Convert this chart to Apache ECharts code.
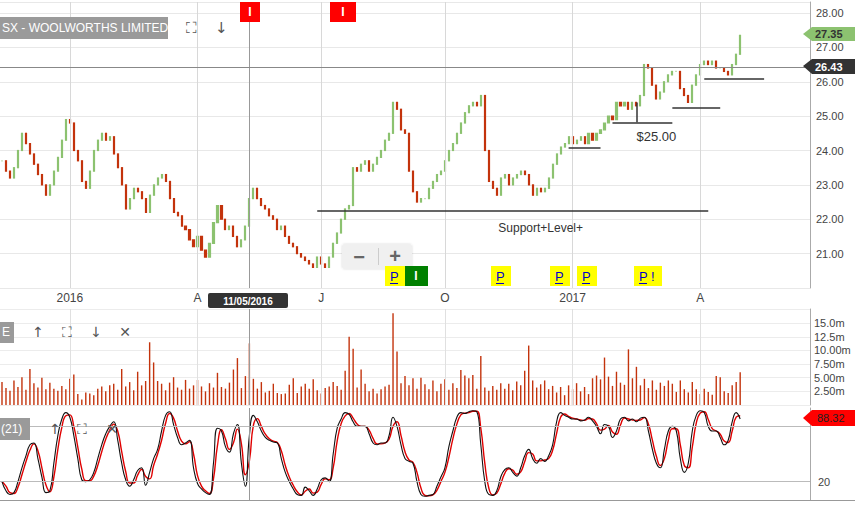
<!DOCTYPE html>
<html>
<head>
<meta charset="utf-8">
<script src="https://cdn.jsdelivr.net/npm/echarts@6/dist/echarts.min.js"></script>
<style>html,body{margin:0;padding:0;background:#fff}#main{width:855px;height:505px}</style>
</head>
<body>
<div id="main"></div>
<script>
// closing prices, one bar per ~2 trading days, Nov 2015 - Apr 2017
const closes = [23.7,23.4,23.2,23.5,24.0,24.5,24.2,23.9,23.6,23.3,
  23.0,22.7,23.0,23.4,23.8,24.3,24.9,24.8,24.0,23.7,
  23.1,22.9,23.4,24.0,24.3,24.5,24.3,24.4,23.9,23.5,
  23.0,22.3,22.6,22.9,22.8,22.6,22.2,22.7,23.0,23.2,
  23.3,23.1,22.6,22.2,22.1,21.8,21.7,21.4,21.2,21.5,
  21.1,20.9,21.3,21.9,22.4,22.0,21.7,21.8,21.5,21.2,
  21.4,21.8,22.6,22.9,22.6,22.4,22.3,22.1,22.0,21.7,
  21.8,21.5,21.3,21.2,21.0,20.9,20.8,20.7,20.6,20.9,
  20.7,20.6,20.9,21.3,21.6,22.0,22.3,22.4,23.5,23.4,
  23.6,23.7,23.4,23.6,23.8,24.0,24.3,24.5,25.4,25.2,
  24.6,24.5,23.4,22.8,22.5,22.6,22.6,22.9,23.1,23.3,
  23.4,23.7,24.0,24.2,24.5,24.8,25.1,25.3,25.4,25.3,
  25.6,24.0,23.1,22.9,22.7,23.2,23.3,23.0,23.2,23.3,
  23.4,23.3,23.0,22.7,22.9,22.8,22.9,23.2,23.6,23.9,
  24.1,24.2,24.4,24.2,24.3,24.4,24.2,24.5,24.3,24.5,
  24.6,24.8,25.0,24.9,25.4,25.3,25.4,25.2,25.4,25.3,
  25.6,26.5,26.4,25.9,25.5,25.7,26.0,26.2,26.3,26.3,
  25.8,25.6,25.4,25.9,26.2,26.5,26.6,26.5,26.6,26.4,
  26.4,26.3,26.2,26.5,26.8,27.35];
const volumes = [4.2,3.1,2.6,4.5,3.3,5.1,2.8,6.6,4.0,3.2,
  5.0,2.9,4.1,3.0,2.6,3.5,2.9,4.8,5.6,2.0,
  1.0,2.3,2.1,1.8,3.0,3.4,2.5,3.6,3.9,2.8,
  6.6,3.4,4.2,2.7,6.1,3.6,4.4,11.5,7.8,4.4,
  3.9,2.7,4.1,5.1,3.2,2.8,4.6,3.0,3.6,4.6,
  3.4,2.5,4.0,3.2,5.9,3.3,3.0,4.1,6.5,8.6,
  3.1,5.3,11.3,4.8,3.0,4.2,2.3,2.6,3.9,2.2,
  2.0,2.1,3.7,4.9,2.2,3.4,3.9,3.0,4.7,2.7,
  2.1,3.1,3.4,4.2,3.5,2.8,6.3,12.5,10.3,3.2,
  6.5,3.9,2.5,3.0,2.1,2.9,3.4,3.7,16.8,9.8,
  4.0,5.3,3.6,4.9,3.0,5.0,3.8,2.9,4.5,2.5,
  3.9,4.7,2.8,4.0,3.1,6.4,5.4,4.9,5.5,3.0,
  9.0,3.2,2.6,3.5,2.8,4.0,3.0,3.9,2.7,4.3,
  3.6,6.3,10.9,4.5,3.2,3.8,4.5,2.9,3.5,2.3,
  3.3,1.8,3.6,2.9,4.0,2.5,3.3,2.0,4.9,5.4,
  4.7,8.7,5.2,3.5,6.1,4.1,3.7,10.2,4.9,7.0,
  3.6,4.8,3.1,4.5,2.8,4.1,3.5,4.5,3.9,2.4,
  4.5,2.9,2.3,4.2,2.9,2.0,3.0,2.4,1.9,5.3,
  5.1,2.5,2.2,3.6,4.2,6.0];
const stochK = [20,10,6,8,20,35,48,60,62,45,
  25,8,10,40,70,88,95,90,70,45,
  22,20,22,30,45,60,72,80,85,65,
  40,22,15,22,32,35,16,30,45,55,
  75,92,96,82,68,60,62,65,35,18,
  12,8,6,40,78,75,58,52,72,82,
  40,15,70,92,85,75,68,65,63,62,
  45,30,20,12,6,5,14,10,5,12,
  22,24,20,50,78,88,95,93,85,80,
  80,80,72,62,60,62,62,70,90,80,
  60,45,42,40,20,6,4,5,6,15,
  25,35,58,75,90,95,94,96,97,96,
  60,20,6,5,10,25,33,35,30,26,
  35,48,55,45,40,45,42,48,60,85,
  95,92,90,88,88,86,87,90,86,80,
  72,82,80,68,75,88,90,86,88,85,
  89,90,75,55,40,35,55,75,80,75,
  45,30,40,75,92,97,95,80,75,75,
  68,60,65,85,95,88];
// x-axis markers (bar index) and labels
const quarterPos = [17, 49, 80, 111, 143, 175];
const quarterLabels = ['2016', 'A', 'J', 'O', '2017', 'A'];
const cursorPos = 62;
const cursorPrice = 26.43;
const slotCount = 203;

const UP = '#8cc270', DOWN = '#c3330c';
const cats = Array.from({length: slotCount}, (_, i) => i);
const candles = closes.map((c, i) => {
  const o = i ? closes[i - 1] : c;
  return [o, c, Math.min(o, c), Math.max(o, c)];
});
const stochD = stochK.map((v, i) => i ? (v + stochK[i - 1]) / 2 : v);

function qLines(withLabel) {
  return quarterPos.map((p, i) => ({
    xAxis: p,
    label: withLabel ? {show: true, formatter: quarterLabels[i], position: 'start', distance: 4, color: '#444', fontSize: 12} : {show: false}
  }));
}
const seg = (x1, y1, x2, y2) => [{coord: [x1, y1]}, {coord: [x2, y2]}];

const chart = echarts.init(document.getElementById('main'), null, {renderer: 'svg'});
const vLbl = {2.5: '2.50m', 5: '5.00m', 7.5: '7.50m', 10: '10.00m', 12.5: '12.5m', 15: '15.0m'};
const catAxis = idx => ({type: 'category', gridIndex: idx, data: cats, show: false});

const overlays = [
    {type: 'rect', shape: {x: 0, y: 17, width: 168, height: 22}, style: {fill: '#9a9a9a'}},
    {type: 'text', x: 2, y: 28, style: {text: 'SX - WOOLWORTHS LIMITED', fill: '#fff', font: '12px Arial', verticalAlign: 'middle'}},
    {type: 'text', x: 186, y: 28, style: {text: '⛶', fill: '#555', font: '15px DejaVu Sans', verticalAlign: 'middle'}},
    {type: 'text', x: 215, y: 28, style: {text: '↓', fill: '#555', font: '15px DejaVu Sans', verticalAlign: 'middle'}},
    {type: 'rect', shape: {x: 240, y: 2, width: 20, height: 20}, style: {fill: '#f00'}},
    {type: 'text', x: 250, y: 12, style: {text: 'I', fill: '#fff', font: 'bold 12px Arial', align: 'center', verticalAlign: 'middle'}},
    {type: 'rect', shape: {x: 330, y: 2, width: 26, height: 20}, style: {fill: '#f00'}},
    {type: 'text', x: 343, y: 12, style: {text: 'I', fill: '#fff', font: 'bold 12px Arial', align: 'center', verticalAlign: 'middle'}},
    {type: 'rect', shape: {x: 342, y: 244, width: 70, height: 25, r: 3}, style: {fill: '#f0f0f0', shadowBlur: 2, shadowColor: 'rgba(0,0,0,0.15)'}},
    {type: 'text', x: 359, y: 257, style: {text: '−', fill: '#666', font: 'bold 20px Arial', align: 'center', verticalAlign: 'middle'}},
    {type: 'rect', shape: {x: 378, y: 248, width: 1, height: 17}, style: {fill: '#ccc'}},
    {type: 'text', x: 395, y: 256, style: {text: '+', fill: '#666', font: 'bold 20px Arial', align: 'center', verticalAlign: 'middle'}},
    ...[[385, 20, 'P'], [491, 20, 'P'], [550, 20, 'P'], [577, 20, 'P'], [634, 28, 'P !']].flatMap(([x, w, t]) => [
      {type: 'rect', shape: {x: x, y: 266, width: w, height: 20}, style: {fill: '#ffff00'}},
      {type: 'text', x: x + 5, y: 276, style: {text: t, fill: '#00c', font: '13px Arial', verticalAlign: 'middle'}},
      {type: 'rect', shape: {x: x + 5, y: 283, width: 8, height: 1}, style: {fill: '#00c'}}
    ]),
    {type: 'rect', shape: {x: 405, y: 266, width: 23, height: 20}, style: {fill: '#008000'}},
    {type: 'text', x: 416, y: 276, style: {text: 'I', fill: '#fff', font: 'bold 12px Arial', align: 'center', verticalAlign: 'middle'}},
    {type: 'rect', shape: {x: 208, y: 293, width: 80, height: 15, r: 2}, style: {fill: '#333'}},
    {type: 'text', x: 248, y: 301, style: {text: '11/05/2016', fill: '#fff', font: 'bold 10px Arial', align: 'center', verticalAlign: 'middle'}},
    {type: 'polygon', shape: {points: [[803, 34], [812, 27], [855, 27], [855, 41], [812, 41]]}, style: {fill: '#8cc270'}},
    {type: 'text', x: 815, y: 34, style: {text: '27.35', fill: '#333', font: 'bold 11px Arial', verticalAlign: 'middle'}},
    {type: 'polygon', shape: {points: [[803, 66], [812, 59], [855, 59], [855, 74], [812, 74]]}, style: {fill: '#333'}},
    {type: 'text', x: 815, y: 67, style: {text: '26.43', fill: '#fff', font: 'bold 11px Arial', verticalAlign: 'middle'}},
    {type: 'polygon', shape: {points: [[803, 418], [812, 410], [855, 410], [855, 426], [812, 426]]}, style: {fill: '#f00'}},
    {type: 'text', x: 817, y: 418, style: {text: '88.32', fill: '#222', font: '11px Arial', verticalAlign: 'middle'}},
    {type: 'rect', shape: {x: 0, y: 322, width: 14, height: 21}, style: {fill: '#9a9a9a'}},
    {type: 'text', x: 2, y: 332, style: {text: 'E', fill: '#fff', font: '12px Arial', verticalAlign: 'middle'}},
    ...[[38, '↑'], [67, '⛶'], [96, '↓'], [125, '✕']].map(([x, t]) =>
      ({type: 'text', x: x, y: 332, style: {text: t, fill: '#555', font: '14px DejaVu Sans', align: 'center', verticalAlign: 'middle'}})),
    {type: 'rect', shape: {x: 0, y: 418, width: 30, height: 22}, style: {fill: '#9a9a9a'}},
    {type: 'text', x: 1, y: 429, style: {text: '(21)', fill: '#fff', font: '12px Arial', verticalAlign: 'middle'}},
    ...[[55, '↑'], [82, '⛶'], [112, '✕']].map(([x, t]) =>
      ({type: 'text', x: x, y: 429, style: {text: t, fill: '#555', font: '14px DejaVu Sans', align: 'center', verticalAlign: 'middle'}})),
    {type: 'rect', shape: {x: 0, y: 500, width: 855, height: 1}, style: {fill: '#999'}}
];

chart.setOption({
  animation: false,
  grid: [
    {left: 0, right: 45, top: 2, height: 286},
    {left: 0, right: 45, top: 309, height: 96},
    {left: 0, right: 45, top: 408, height: 92}
  ],
  xAxis: [catAxis(0), catAxis(1), catAxis(2)],
  yAxis: [
    {type: 'value', gridIndex: 0, position: 'right', min: 20, max: 28.32, interval: 1,
      axisLine: {show: true, lineStyle: {color: '#aaa'}}, axisTick: {show: false},
      axisLabel: {color: '#444', fontSize: 11, margin: 6, formatter: v => (v > 20 && v < 28.3) ? v.toFixed(2) : ''},
      splitLine: {lineStyle: {color: '#e8e8e8'}}},
    {type: 'value', gridIndex: 1, position: 'right', min: 0, max: 17.6, interval: 2.5,
      axisLine: {show: true, lineStyle: {color: '#aaa'}}, axisTick: {show: false},
      axisLabel: {color: '#444', fontSize: 11, margin: 4, formatter: v => vLbl[v] || ''},
      splitLine: {lineStyle: {color: '#ececec'}}},
    {type: 'value', gridIndex: 2, position: 'right', min: 0, max: 100, interval: 20,
      axisLine: {show: true, lineStyle: {color: '#aaa'}}, axisTick: {show: false},
      axisLabel: {color: '#444', fontSize: 11, margin: 8, formatter: v => v === 20 ? '20' : ''},
      splitLine: {show: false}}
  ],
  series: [
    {type: 'candlestick', xAxisIndex: 0, yAxisIndex: 0, data: candles, barMaxWidth: 1.6,
      itemStyle: {color: UP, color0: DOWN, borderColor: UP, borderColor0: DOWN, borderWidth: 1.2},
      markLine: {silent: true, symbol: 'none', animation: false,
        data: [
          ...qLines(true).map(d => ({...d, lineStyle: {color: '#d8d8d8', width: 1, type: 'solid'}})),
          {xAxis: cursorPos, label: {show: false}, lineStyle: {color: '#999', width: 1, type: 'solid'}},
          {yAxis: cursorPrice, label: {show: false}, lineStyle: {color: '#888', width: 1, type: 'solid'}},
          ...[seg(79, 22.25, 177, 22.25), seg(142, 24.07, 150, 24.07), seg(153, 24.82, 168, 24.82),
              seg(159, 24.82, 159, 25.4), seg(168, 25.25, 180, 25.25), seg(176, 26.1, 191, 26.1)]
            .map(s => [{...s[0], lineStyle: {color: '#333', width: 1.5, type: 'solid'}, label: {show: false}}, s[1]])
        ]},
      markPoint: {symbol: 'circle', symbolSize: 0, silent: true,
        label: {color: '#333', fontSize: 12, fontFamily: 'Arial'},
        data: [
          {coord: [135, 21.75], label: {formatter: 'Support+Level+'}},
          {coord: [164, 24.42], label: {formatter: '$25.00', fontSize: 13}}
        ]}
    },
    {type: 'bar', xAxisIndex: 1, yAxisIndex: 1, data: volumes, barWidth: 1.4,
      itemStyle: {color: DOWN},
      markLine: {silent: true, symbol: 'none', label: {show: false},
        data: [...qLines(false).map(d => ({...d, lineStyle: {color: '#e0e0e0', type: 'solid'}})),
          {xAxis: cursorPos, lineStyle: {color: '#999', type: 'solid', width: 1}}]}},
    {type: 'line', xAxisIndex: 2, yAxisIndex: 2, data: stochD, symbol: 'none', smooth: true,
      lineStyle: {color: '#e00000', width: 1.4}},
    {type: 'line', xAxisIndex: 2, yAxisIndex: 2, data: stochK, symbol: 'none', smooth: true,
      lineStyle: {color: '#111', width: 1.1},
      markLine: {silent: true, symbol: 'none', label: {show: false},
        data: [{yAxis: 20, lineStyle: {color: '#bbb', type: 'solid'}}, {yAxis: 80, lineStyle: {color: '#bbb', type: 'solid'}},
          {xAxis: cursorPos, lineStyle: {color: '#999', type: 'solid', width: 1}}]}}
  ],
  graphic: overlays.map(g => ({...g, z: 100}))
});
</script>
</body>
</html>
